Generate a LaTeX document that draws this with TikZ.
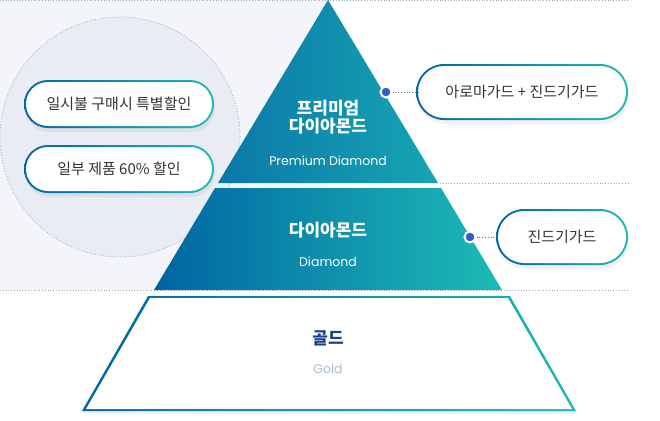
\documentclass[tikz,border=0pt]{standalone}
\usepackage{fontspec}
\setmainfont{Poppins}
\newfontfamily\kr{Noto Sans CJK KR}
\usetikzlibrary{shadows}
\definecolor{bgL}{HTML}{F4F5F9}
\definecolor{circ}{HTML}{E9ECF3}
\definecolor{dotc}{HTML}{9AA8BE}
\definecolor{bl}{HTML}{0065A3}
\definecolor{tl}{HTML}{1DBBB5}
\definecolor{tbl}{HTML}{0B78A8}
\definecolor{ttl}{HTML}{16A4B3}
\definecolor{txt}{HTML}{333333}
\definecolor{goldt}{HTML}{1D3F8F}
\definecolor{golds}{HTML}{A9B8D6}
\definecolor{dotb}{HTML}{2F5FC4}
\tikzset{
 dline/.style={dotc,dotted,line width=0.8pt},
 pilltxt/.style={font=\kr\fontsize{15}{17}\selectfont,text=txt},
 wt/.style={text=white},
 cdot/.style={circle,fill=dotb,draw=white,line width=2pt,minimum size=11pt,inner sep=0pt,drop shadow={opacity=0.25,shadow xshift=0pt,shadow yshift=0pt}},
}
\newcommand{\mypill}[6]{%
 \fill[black,opacity=0.05,rounded corners=#5*0.5pt] ({#2-#4/2+1},{#3-#5/2+4}) rectangle ({#2+#4/2+1},{#3+#5/2+4});
 \shade[left color=bl,right color=tl,rounded corners=#5*0.5pt] ({#2-#4/2},{#3-#5/2}) rectangle ({#2+#4/2},{#3+#5/2});
 \node[fill=white,rounded corners=#5*0.5pt-2pt,minimum width=#4*1pt-4pt,minimum height=#5*1pt-4pt,inner sep=0pt,pilltxt] (#1) at (#2,#3) {#6};}
\begin{document}
\begin{tikzpicture}[x=1pt,y=-1pt]
\useasboundingbox (0,0) rectangle (660,420);
\fill[bgL] (0,0) rectangle (328,290);
\fill[bgL] (328,0) -- (155,290) -- (328,290) -- cycle;
\fill[circ] (120,137) circle (120);
\draw[dline] (120,137) circle (120);
\draw[dline] (0,0.5) -- (630,0.5);
\draw[dline] (440,183.5) -- (630,183.5);
\draw[dline] (0,290.5) -- (630,290.5);
% top triangle
\shade[left color=tbl,right color=ttl] (328,0) -- (438,183) -- (218,183) -- cycle;
% middle band
\shade[left color=bl,right color=tl] (215,188) -- (441,188) -- (502,290) -- (154,290) -- cycle;
% gold
\fill[black,opacity=0.05] (150,300) -- (508,300) -- (576,414) -- (82,414) -- cycle;
\shade[left color=bl,right color=tl] (148,296) -- (510,296) -- (576,411) -- (82,411) -- cycle;
\fill[white] (150,298) -- (508,298) -- (572,409) -- (86,409) -- cycle;
% texts
\node[wt,font=\kr\bfseries\fontsize{17}{19}\selectfont,align=center] (pt) at (328,117) {프리미엄\\[-1pt]다이아몬드};
\node[wt,font=\fontsize{12.5}{14}\selectfont] (pe) at (328,161) {Premium Diamond};
\node[wt,font=\kr\bfseries\fontsize{17}{19}\selectfont] (dt) at (328,230) {다이아몬드};
\node[wt,font=\fontsize{12.5}{14}\selectfont] (de) at (328,262) {Diamond};
\node[text=goldt,font=\kr\bfseries\fontsize{17}{19}\selectfont] (gt) at (328,338) {골드};
\node[text=golds,font=\fontsize{12.5}{14}\selectfont] (ge) at (328,369) {Gold};
% pills
\mypill{p1}{119}{104}{190}{48}{일시불 구매시 특별할인}
\mypill{p2}{119}{169}{190}{48}{일부 제품 60\% 할인}
\mypill{p3}{522}{92}{212}{56}{아로마가드 + 진드기가드}
\mypill{p4}{562}{237}{132}{56}{진드기가드}
\node[cdot] (d1) at (386,92) {};
\node[cdot] (d2) at (470,237) {};
\draw[dline,txt!70] (d1) -- (p3.west);
\draw[dline,txt!70] (d2) -- (p4.west);
\end{tikzpicture}
\end{document}
